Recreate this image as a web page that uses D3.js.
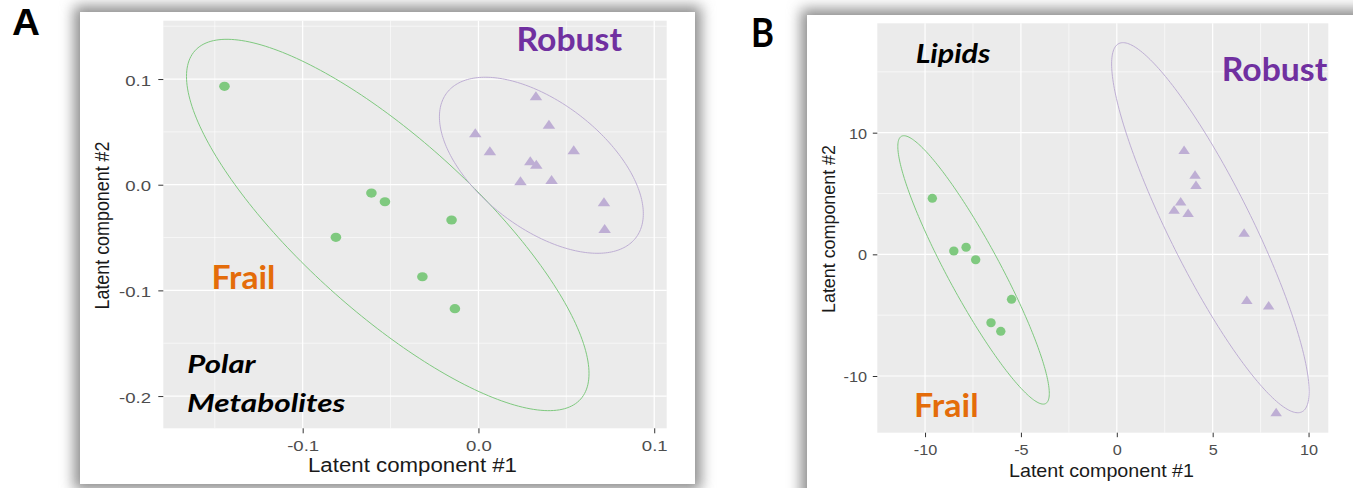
<!DOCTYPE html>
<html><head><meta charset="utf-8">
<script src="https://cdn.jsdelivr.net/npm/d3@7"></script>
<style>html,body{margin:0;padding:0;background:#fff;overflow:hidden}</style>
</head><body>
<svg id="c" width="1353" height="488"></svg>
<script>
// ---------- data ----------
// Panel A – Polar metabolites
const frailA_x  = [-0.1445, -0.0609, -0.0532, -0.0153, -0.0811, -0.0319, -0.0134];
const frailA_y  = [ 0.0931, -0.0079, -0.0161, -0.0334, -0.0498, -0.0871, -0.1173];
const robustA_x = [-0.0018, 0.0065, 0.0327, 0.0401, 0.0542, 0.0295, 0.0329, 0.0239, 0.0416, 0.0714, 0.0718];
const robustA_y = [ 0.0477, 0.0307, 0.0827, 0.0558, 0.0316, 0.0212, 0.0180, 0.0023, 0.0035, -0.0176, -0.0429];
// ellipses A: [frail, robust]  centre, half-extent x, half-extent y, correlation
const ellA_cx = [-0.0516, 0.0358];
const ellA_cy = [-0.0381, 0.0184];
const ellA_ax = [ 0.1145, 0.0580];
const ellA_ay = [ 0.1757, 0.0833];
const ellA_r  = [-0.80, -0.55];
const xTicksA = [-0.1, 0.0, 0.1];
const xLabelsA = ["-0.1", "0.0", "0.1"];
const xMinorA = [-0.15, -0.05, 0.05];
const yTicksA = [-0.2, -0.1, 0.0, 0.1];
const yLabelsA = ["-0.2", "-0.1", "0.0", "0.1"];
const yMinorA = [-0.15, -0.05, 0.05, 0.15];

// Panel B – Lipids
const frailB_x  = [-9.62, -8.50, -7.86, -7.36, -5.49, -6.56, -6.05];
const frailB_y  = [ 4.60,  0.27,  0.58, -0.44, -3.70, -5.62, -6.33];
const robustB_x = [3.51, 4.08, 4.13, 3.33, 2.99, 3.72, 6.64, 6.78, 7.92, 8.31];
const robustB_y = [8.49, 6.44, 5.61, 4.24, 3.56, 3.31, 1.67, -3.84, -4.31, -13.07];
const ellB_cx = [-7.47, 4.88];
const ellB_cy = [-1.28, 2.19];
const ellB_ax = [ 3.95, 5.15];
const ellB_ay = [11.03, 15.21];
const ellB_r  = [-0.92, -0.885];
const xTicksB = [-10, -5, 0, 5, 10];
const xLabelsB = ["-10", "-5", "0", "5", "10"];
const xMinorB = [-7.5, -2.5, 2.5, 7.5];
const yTicksB = [-10, 0, 10];
const yLabelsB = ["-10", "0", "10"];
const yMinorB = [-5, 5, 15];

const axisTitleX = "Latent component #1";
const axisTitleY = "Latent component #2";

// ---------- drawing ----------
const GREEN = "#7fc97f", PURPLE = "#beaed4";
const svg = d3.select("#c");
svg.append("rect").attr("width",1353).attr("height",488).attr("fill","#fff");
const defs = svg.append("defs");
defs.append("filter").attr("id","sh").attr("x","-20%").attr("y","-20%").attr("width","140%").attr("height","140%")
  .append("feGaussianBlur").attr("stdDeviation",7);

// cards with soft shadow
function card(x0,y0,w,h){
  svg.append("rect").attr("x",x0-6).attr("y",y0-6).attr("width",w+12).attr("height",h+12)
     .attr("fill","#8c8c8c").attr("filter","url(#sh)");
  svg.append("rect").attr("x",x0).attr("y",y0).attr("width",w).attr("height",h).attr("fill","#fff");
}
card(80,12,615,472);
card(807,15,570,490);

function ellipsePath(x,y,cx,cy,ax,ay,r){
  const pts=[]; const s=Math.sqrt(1-r*r);
  for(let i=0;i<=240;i++){
    const t=2*Math.PI*i/240;
    pts.push([x(cx+ax*Math.cos(t)), y(cy+ay*(r*Math.cos(t)+s*Math.sin(t)))]);
  }
  return d3.line()(pts)+"Z";
}
function tri(w,h){ return `M0,${-2*h/3}L${w/2},${h/3}L${-w/2},${h/3}Z`; }

function panel(c){
  const g = svg.append("g");
  const x = d3.scaleLinear().domain(c.xDomain).range([c.left,c.right]);
  const y = d3.scaleLinear().domain(c.yDomain).range([c.bottom,c.top]);
  g.append("rect").attr("x",c.left).attr("y",c.top).attr("width",c.right-c.left).attr("height",c.bottom-c.top).attr("fill","#ebebeb");
  // minor grid
  g.selectAll(".mx").data(c.xMinor).join("line").attr("x1",d=>x(d)).attr("x2",d=>x(d)).attr("y1",c.top).attr("y2",c.bottom)
    .attr("stroke","#fff").attr("stroke-width",0.6);
  g.selectAll(".my").data(c.yMinor).join("line").attr("y1",d=>y(d)).attr("y2",d=>y(d)).attr("x1",c.left).attr("x2",c.right)
    .attr("stroke","#fff").attr("stroke-width",0.6);
  // major grid
  g.selectAll(".Mx").data(c.xTicks).join("line").attr("x1",d=>x(d)).attr("x2",d=>x(d)).attr("y1",c.top).attr("y2",c.bottom)
    .attr("stroke","#fff").attr("stroke-width",1.2);
  g.selectAll(".My").data(c.yTicks).join("line").attr("y1",d=>y(d)).attr("y2",d=>y(d)).attr("x1",c.left).attr("x2",c.right)
    .attr("stroke","#fff").attr("stroke-width",1.2);
  // axes
  const ax = g.append("g").attr("transform",`translate(0,${c.bottom})`)
    .call(d3.axisBottom(x).tickValues(c.xTicks).tickFormat((d,i)=>c.xLabels[i]).tickSize(c.tick).tickSizeOuter(0));
  const ay = g.append("g").attr("transform",`translate(${c.left},0)`)
    .call(d3.axisLeft(y).tickValues(c.yTicks).tickFormat((d,i)=>c.yLabels[i]).tickSize(c.tick).tickSizeOuter(0));
  [ax,ay].forEach(a=>{
    a.select(".domain").remove();
    a.selectAll(".tick line").attr("stroke","#333").attr("stroke-width",1);
    a.selectAll(".tick text").attr("fill","#4d4d4d").attr("font-family","Liberation Sans, Arial, sans-serif")
      .attr("font-size",c.tickFont);
  });
  ax.selectAll(".tick text").attr("y",c.xLabBase).attr("dy",0);
  ay.selectAll(".tick text").attr("x",-(c.left-c.yLabRight)).attr("dy",c.yLabDy);
  [ax,ay].forEach(a=>a.selectAll(".tick text").each(function(){
    const L=this.getComputedTextLength(); d3.select(this).attr("textLength",L*c.stretch).attr("lengthAdjust","spacingAndGlyphs");
  }));
  // axis titles
  g.append("text").attr("x",c.xt.x).attr("y",c.xt.y).attr("text-anchor","middle").attr("font-size",c.xt.fs)
    .attr("font-family","Liberation Sans, Arial, sans-serif").attr("fill","#1a1a1a")
    .attr("textLength",c.xt.len).attr("lengthAdjust","spacingAndGlyphs").text(axisTitleX);
  g.append("text").attr("transform",`translate(${c.yt.x},${c.yt.y}) rotate(-90)`).attr("text-anchor","middle").attr("font-size",c.yt.fs)
    .attr("font-family","Liberation Sans, Arial, sans-serif").attr("fill","#1a1a1a")
    .attr("textLength",c.yt.len).attr("lengthAdjust","spacingAndGlyphs").text(axisTitleY);
  // ellipses
  const cols=[GREEN,PURPLE];
  for(let i=0;i<2;i++){
    g.append("path").attr("d",ellipsePath(x,y,c.ell.cx[i],c.ell.cy[i],c.ell.ax[i],c.ell.ay[i],c.ell.r[i]))
      .attr("fill","none").attr("stroke",cols[i]).attr("stroke-width",1);
  }
  // points
  g.selectAll(".fr").data(d3.range(c.fx.length)).join("ellipse")
    .attr("cx",i=>x(c.fx[i])).attr("cy",i=>y(c.fy[i])).attr("rx",c.dot[0]).attr("ry",c.dot[1]).attr("fill",GREEN);
  g.selectAll(".rb").data(d3.range(c.rx.length)).join("path")
    .attr("transform",i=>`translate(${x(c.rx[i])},${y(c.ry[i])})`).attr("d",tri(c.tri[0],c.tri[1])).attr("fill",PURPLE);
  return g;
}

panel({
  left:163.3,right:666.7,top:20.7,bottom:428.3,
  xDomain:[-0.1793,0.1071], yDomain:[-0.2305,0.1552],
  xTicks:xTicksA,xLabels:xLabelsA,xMinor:xMinorA,yTicks:yTicksA,yLabels:yLabelsA,yMinor:yMinorA,
  tick:5, tickFont:14.5, stretch:1.28, xLabBase:22.4, yLabRight:151, yLabDy:6,
  xt:{x:412.5,y:471.5,fs:19.5,len:209}, yt:{x:109,y:225.5,fs:19.5,len:168},
  ell:{cx:ellA_cx,cy:ellA_cy,ax:ellA_ax,ay:ellA_ay,r:ellA_r},
  fx:frailA_x,fy:frailA_y,rx:robustA_x,ry:robustA_y, dot:[5.3,4.6], tri:[12.5,9]
});
panel({
  left:877.3,right:1328.3,top:23.3,bottom:432.7,
  xDomain:[-12.49,11.03], yDomain:[-14.66,18.99],
  xTicks:xTicksB,xLabels:xLabelsB,xMinor:xMinorB,yTicks:yTicksB,yLabels:yLabelsB,yMinor:yMinorB,
  tick:4.5, tickFont:14.5, stretch:1.12, xLabBase:22.8, yLabRight:867, yLabDy:5.5,
  xt:{x:1101.5,y:476.5,fs:18.5,len:185}, yt:{x:834.5,y:229,fs:18,len:168},
  ell:{cx:ellB_cx,cy:ellB_cy,ax:ellB_ax,ay:ellB_ay,r:ellB_r},
  fx:frailB_x,fy:frailB_y,rx:robustB_x,ry:robustB_y, dot:[4.7,4.5], tri:[11.5,8.5]
});

// annotations
function label(t,x,y,fs,len,col,opts){
  const e=svg.append("text").attr("x",x).attr("y",y).attr("font-size",fs).attr("fill",col)
    .attr("font-family",(opts&&opts.ff)||"Lato, 'Open Sans', sans-serif").attr("font-weight","bold")
    .attr("textLength",len).attr("lengthAdjust","spacingAndGlyphs").text(t);
  if(opts&&opts.italic) e.attr("font-style","italic");
}
label("A",12,35,37,28,"#000",{ff:"Liberation Sans, Arial, sans-serif"});
label("B",751,47,40,23,"#000");
label("Robust",516.5,50.7,31.5,105.5,"#7030a0");
label("Robust",1221.7,80.7,32,105.6,"#7030a0");
label("Frail",211.4,289.3,31.5,64,"#e46c0a");
label("Frail",914,416.7,31.5,64.6,"#e46c0a");
label("Polar",187.3,373.3,24.5,68.3,"#000",{italic:true});
label("Metabolites",187,411.7,24.5,158.4,"#000",{italic:true});
label("Lipids",915.7,62.7,26,74.7,"#000",{italic:true});
</script>
</body></html>
